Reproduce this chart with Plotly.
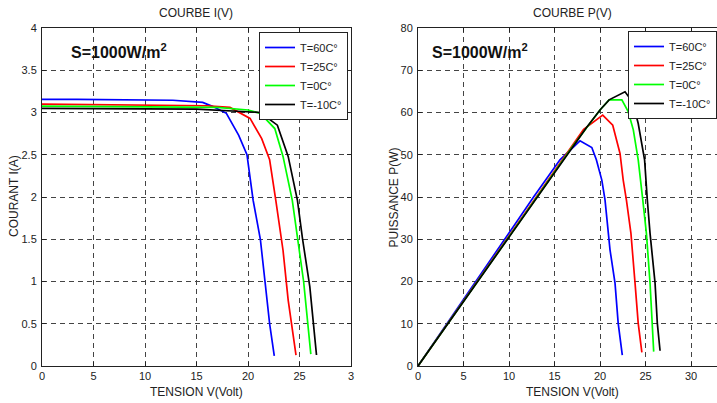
import plotly.graph_objects as go

# ---------- data ----------
labels = ["T=60C°", "T=25C°", "T=0C°", "T=-10C°"]
colors = ["#0000FF", "#FF0000", "#00FF00", "#000000"]

# I(V) curves
v_iv_60 = [0, 3.4, 12.7, 15.6, 16.6, 17.9, 19.1, 19.9, 20.5, 21.2, 21.65, 22.1, 22.55]
i_iv_60 = [3.155, 3.155, 3.145, 3.12, 3.07, 2.99, 2.73, 2.50, 1.96, 1.50, 1.0, 0.5, 0.12]
v_iv_25 = [0, 12, 16, 18.25, 20.2, 21.33, 22.1, 22.7, 23.4, 23.9, 24.66]
i_iv_25 = [3.10, 3.09, 3.08, 3.06, 2.93, 2.69, 2.44, 1.96, 1.37, 0.78, 0.13]
v_iv_0 = [0, 12, 17, 20, 21.2, 22.6, 23.4, 24.3, 24.8, 25.4, 26.1]
i_iv_0 = [3.075, 3.07, 3.06, 3.03, 2.99, 2.81, 2.48, 1.96, 1.5, 1.0, 0.14]
v_iv_m10 = [0, 15, 21.2, 22.85, 23.9, 24.8, 25.3, 26.0, 26.65]
i_iv_m10 = [3.05, 3.04, 3.0, 2.85, 2.48, 1.96, 1.5, 0.94, 0.13]

# P(V) curves
v_pv_60 = [0, 12.7, 15.6, 17.8, 19.1, 19.6, 20.2, 20.55, 21.1, 21.65, 22.0, 22.45]
p_pv_60 = [0, 40.0, 48.8, 53.3, 51.7, 48.8, 44.0, 39.3, 27.5, 19.6, 10.1, 2.6]
v_pv_25 = [0, 12, 16, 18.2, 20.3, 21.4, 22.2, 22.55, 22.9, 23.4, 23.85, 24.2, 24.6]
p_pv_25 = [0, 37.1, 49.3, 56.0, 59.4, 57.0, 50.3, 44.0, 39.3, 31.4, 19.6, 10.1, 3.2]
v_pv_0 = [0, 12, 17, 20, 21.0, 22.4, 23.1, 23.66, 24.2, 24.7, 25.1, 25.5, 25.7, 25.9]
p_pv_0 = [0, 36.8, 52.0, 60.6, 63.0, 63.0, 60.2, 55.9, 48.8, 39.3, 31.4, 19.6, 11.7, 3.4]
v_pv_m10 = [0, 12, 18.5, 20, 21.0, 22.75, 23.6, 24.2, 24.9, 25.2, 25.5, 26.05, 26.3, 26.6]
p_pv_m10 = [0, 36.6, 56.4, 60.6, 63.0, 64.9, 62.4, 57.4, 48.8, 39.3, 31.4, 19.6, 10.1, 3.6]

iv_series = [(v_iv_60, i_iv_60), (v_iv_25, i_iv_25), (v_iv_0, i_iv_0), (v_iv_m10, i_iv_m10)]
pv_series = [(v_pv_60, p_pv_60), (v_pv_25, p_pv_25), (v_pv_0, p_pv_0), (v_pv_m10, p_pv_m10)]

x_ticks_left = [0, 5, 10, 15, 20, 25, 30]
x_ticktext_left = ["0", "5", "10", "15", "20", "25", "3"]
y_ticks_left = [0, 0.5, 1, 1.5, 2, 2.5, 3, 3.5, 4]
x_ticks_right = [0, 5, 10, 15, 20, 25, 30]
y_ticks_right = [0, 10, 20, 30, 40, 50, 60, 70, 80]

FONT = "Liberation Sans Narrow, Arial Narrow, Liberation Sans, Arial, sans-serif"
W, H = 717, 403

fig = go.Figure()
for (v, i), name, c in zip(iv_series, labels, colors):
    fig.add_trace(go.Scatter(x=v, y=i, mode="lines", name=name,
                             line=dict(color=c, width=1.7),
                             xaxis="x", yaxis="y", legend="legend"))
for (v, p), name, c in zip(pv_series, labels, colors):
    fig.add_trace(go.Scatter(x=v, y=p, mode="lines", name=name,
                             line=dict(color=c, width=1.7),
                             xaxis="x2", yaxis="y2", legend="legend2"))

ydom = [1 - 366 / H, 1 - 28 / H]
common = dict(showline=True, linecolor="#222", linewidth=1, ticks="inside",
              ticklen=4, tickcolor="#222", showgrid=True, gridcolor="#444",
              griddash="5px,4px", gridwidth=1, zeroline=False,
              tickfont=dict(family=FONT, size=11, color="#222"))

fig.update_layout(
    width=W, height=H,
    margin=dict(l=0, r=0, t=0, b=0, autoexpand=False),
    paper_bgcolor="white", plot_bgcolor="white",
    font=dict(family=FONT, size=12, color="#222"),
    xaxis=dict(domain=[42 / W, 351 / W], range=[0, 30], tickvals=x_ticks_left,
               ticktext=x_ticktext_left, mirror="ticks", anchor="y", **common),
    yaxis=dict(domain=ydom, range=[0, 4], tickvals=y_ticks_left, mirror="ticks",
               anchor="x", ticklabelstandoff=2, **common),
    xaxis2=dict(domain=[418 / W, 1.0], range=[0, (W - 418) / 9.1],
                tickvals=x_ticks_right, mirror="ticks", anchor="y2", **common),
    yaxis2=dict(domain=ydom, range=[0, 80], tickvals=y_ticks_right, mirror=False,
                anchor="x2", ticklabelstandoff=2, **common),
    legend=dict(x=348 / W, y=1 - 32 / H, xanchor="right", yanchor="top",
                bgcolor="white", bordercolor="#222", borderwidth=1,
                font=dict(family=FONT, size=11, color="#222")),
    legend2=dict(x=1.0, y=1 - 31 / H, xanchor="right", yanchor="top",
                 bgcolor="white", bordercolor="#222", borderwidth=1,
                 font=dict(family=FONT, size=11, color="#222")),
    showlegend=True,
)

def text_ann(txt, x, y, size=12, angle=0, family=FONT, color="#222"):
    fig.add_annotation(text=txt, x=x / W, y=1 - y / H, xref="paper", yref="paper",
                       xanchor="center", yanchor="middle", showarrow=False,
                       textangle=angle, font=dict(family=family, size=size, color=color))

text_ann("COURBE I(V)", 196, 13)
text_ann("COURBE P(V)", 572, 13)
text_ann("TENSION V(Volt)", 196.5, 392)
text_ann("TENSION V(Volt)", 572, 392)
text_ann("COURANT I(A)", 14, 196, angle=-90)
text_ann("PUISSANCE P(W)", 393, 197.5, angle=-90)
for cx in (119, 479.5):
    text_ann("<b>S=1000W/m<sup>2</sup></b>", cx, 51, size=16,
             family="Liberation Sans, Arial, sans-serif", color="#111")

fig.write_html("out.html", config={"displayModeBar": False},
               post_script="document.body.style.margin='0px';document.body.style.overflow='hidden';")
